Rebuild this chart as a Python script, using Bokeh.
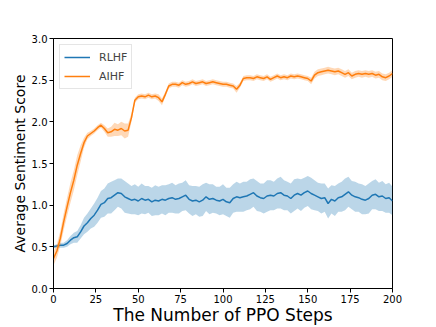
from bokeh.plotting import figure
from bokeh.models import FixedTicker, NumeralTickFormatter, Range1d, Legend, LegendItem, ColumnDataSource
from bokeh.embed import file_html
from bokeh.resources import INLINE

steps = list(range(0, 201, 2))

aihf_mean = [0.36, 0.45, 0.60, 0.80, 0.98, 1.15, 1.30, 1.48, 1.62, 1.75,
             1.83, 1.86, 1.89, 1.93, 1.96, 1.92, 1.87, 1.88, 1.91, 1.90,
             1.92, 1.89, 1.90, 2.05, 2.26, 2.30, 2.31, 2.30, 2.32, 2.30,
             2.31, 2.29, 2.24, 2.33, 2.43, 2.45, 2.45, 2.44, 2.47, 2.45,
             2.46, 2.48, 2.46, 2.47, 2.48, 2.46, 2.47, 2.48, 2.47, 2.46,
             2.45, 2.45, 2.44, 2.43, 2.39, 2.44, 2.52, 2.53, 2.53, 2.52,
             2.54, 2.53, 2.52, 2.54, 2.51, 2.53, 2.55, 2.53, 2.54, 2.53,
             2.55, 2.54, 2.55, 2.54, 2.53, 2.52, 2.49, 2.56, 2.59, 2.60,
             2.61, 2.62, 2.61, 2.60, 2.61, 2.59, 2.57, 2.59, 2.55, 2.57,
             2.58, 2.57, 2.58, 2.57, 2.58, 2.56, 2.57, 2.54, 2.53, 2.55,
             2.58]
aihf_spread = [0.08, 0.08, 0.09, 0.10, 0.11, 0.12, 0.12, 0.12, 0.10, 0.06,
               0.04, 0.03, 0.03, 0.03, 0.03, 0.04, 0.05, 0.06, 0.08, 0.07,
               0.08, 0.09, 0.08, 0.05, 0.03, 0.03, 0.03, 0.03, 0.03, 0.03,
               0.03, 0.04, 0.04, 0.03, 0.03, 0.03, 0.03, 0.03, 0.03, 0.03,
               0.03, 0.03, 0.03, 0.03, 0.03, 0.03, 0.03, 0.03, 0.03, 0.03,
               0.03, 0.03, 0.03, 0.03, 0.04, 0.03, 0.03, 0.03, 0.03, 0.03,
               0.03, 0.03, 0.03, 0.03, 0.03, 0.03, 0.03, 0.03, 0.03, 0.03,
               0.03, 0.03, 0.03, 0.03, 0.03, 0.03, 0.04, 0.04, 0.04, 0.04,
               0.04, 0.04, 0.04, 0.04, 0.04, 0.04, 0.04, 0.04, 0.04, 0.04,
               0.04, 0.04, 0.04, 0.04, 0.04, 0.04, 0.04, 0.04, 0.04, 0.04,
               0.04]

rlhf_mean = [0.50, 0.51, 0.52, 0.52, 0.54, 0.58, 0.61, 0.62, 0.68, 0.75,
             0.79, 0.84, 0.88, 0.94, 1.01, 1.03, 1.08, 1.09, 1.12, 1.15,
             1.14, 1.10, 1.08, 1.06, 1.07, 1.05, 1.08, 1.06, 1.07, 1.04,
             1.06, 1.05, 1.07, 1.06, 1.08, 1.09, 1.07, 1.08, 1.10, 1.12,
             1.07, 1.05, 1.06, 1.04, 1.06, 1.10, 1.07, 1.08, 1.06, 1.05,
             1.07, 1.04, 1.03, 1.08, 1.10, 1.09, 1.10, 1.11, 1.13, 1.15,
             1.11, 1.09, 1.08, 1.11, 1.12, 1.11, 1.14, 1.15, 1.12, 1.11,
             1.08, 1.12, 1.14, 1.12, 1.15, 1.17, 1.14, 1.12, 1.10, 1.08,
             1.09, 1.02, 1.07, 1.05, 1.09, 1.10, 1.13, 1.16, 1.12, 1.10,
             1.09, 1.07, 1.06, 1.08, 1.12, 1.13, 1.10, 1.11, 1.08, 1.09,
             1.05]
rlhf_spread = [0.02, 0.02, 0.03, 0.03, 0.04, 0.05, 0.06, 0.07, 0.08, 0.10,
               0.11, 0.12, 0.14, 0.15, 0.16, 0.17, 0.18, 0.19, 0.18, 0.17,
               0.18, 0.19, 0.18, 0.17, 0.18, 0.17, 0.18, 0.17, 0.16, 0.17,
               0.18, 0.17, 0.17, 0.18, 0.17, 0.18, 0.17, 0.18, 0.17, 0.18,
               0.17, 0.18, 0.17, 0.18, 0.19, 0.17, 0.18, 0.17, 0.16, 0.17,
               0.18, 0.17, 0.18, 0.17, 0.18, 0.17, 0.18, 0.17, 0.18, 0.17,
               0.18, 0.17, 0.18, 0.19, 0.18, 0.17, 0.18, 0.19, 0.18, 0.17,
               0.18, 0.19, 0.18, 0.19, 0.18, 0.18, 0.19, 0.18, 0.17, 0.18,
               0.17, 0.18, 0.17, 0.18, 0.17, 0.18, 0.19, 0.18, 0.17, 0.18,
               0.17, 0.18, 0.17, 0.18, 0.17, 0.18, 0.17, 0.18, 0.17, 0.18,
               0.17]

series_names = ["RLHF", "AIHF"]
series_colors = ["#1f77b4", "#ff7f0e"]
x_ticks = [0, 25, 50, 75, 100, 125, 150, 175, 200]
y_ticks = [0.0, 0.5, 1.0, 1.5, 2.0, 2.5, 3.0]

FONT = "DejaVu Sans"

p = figure(width=428, height=327, output_backend="svg", toolbar_location=None,
           x_range=Range1d(0, 200), y_range=Range1d(0, 3.0),
           min_border_left=53, min_border_top=38, min_border_right=36, min_border_bottom=37)
p.grid.visible = False
p.outline_line_color = "black"
p.outline_line_width = 1
p.background_fill_color = "white"
p.border_fill_color = "white"

items = []
for name, color, mean, spread in [(series_names[0], series_colors[0], rlhf_mean, rlhf_spread),
                                  (series_names[1], series_colors[1], aihf_mean, aihf_spread)]:
    lo = [m - s for m, s in zip(mean, spread)]
    hi = [m + s for m, s in zip(mean, spread)]
    src = ColumnDataSource(dict(x=steps, y=mean, lo=lo, hi=hi))
    p.varea(x="x", y1="lo", y2="hi", source=src, fill_color=color, fill_alpha=0.3)
    r = p.line(x="x", y="y", source=src, line_color=color, line_width=1.5)
    items.append(LegendItem(label=name, renderers=[r]))

legend = Legend(items=items, location="top_left")
legend.margin = 6
legend.padding = 4
legend.spacing = 3
legend.glyph_width = 26
legend.glyph_height = 16
legend.label_height = 16
legend.label_standoff = 9
legend.label_text_font = FONT
legend.label_text_font_size = "11px"
legend.border_line_color = "#cccccc"
legend.border_line_width = 1
legend.background_fill_alpha = 0.8
p.add_layout(legend)

for ax in [p.xaxis[0], p.yaxis[0]]:
    ax.major_label_text_font = FONT
    ax.major_label_text_font_size = "10px"
    ax.major_label_text_color = "black"
    ax.axis_label_text_font = FONT
    ax.axis_label_text_font_style = "normal"
    ax.axis_label_text_color = "black"
    ax.axis_line_color = "black"
    ax.major_tick_line_color = "black"
    ax.major_tick_in = 0
    ax.major_tick_out = 4
    ax.minor_tick_line_color = None
    ax.major_label_standoff = 2

p.xaxis.axis_label_standoff = -1
p.yaxis.axis_label_standoff = 1
p.xaxis.ticker = FixedTicker(ticks=x_ticks)
p.yaxis.ticker = FixedTicker(ticks=y_ticks)
p.yaxis.formatter = NumeralTickFormatter(format="0.0")
p.xaxis.axis_label = "The Number of PPO Steps"
p.xaxis.axis_label_text_font_size = "17px"
p.yaxis.axis_label = "Average Sentiment Score"
p.yaxis.axis_label_text_font_size = "14px"

open("out.html", "w").write(file_html(p, INLINE))
